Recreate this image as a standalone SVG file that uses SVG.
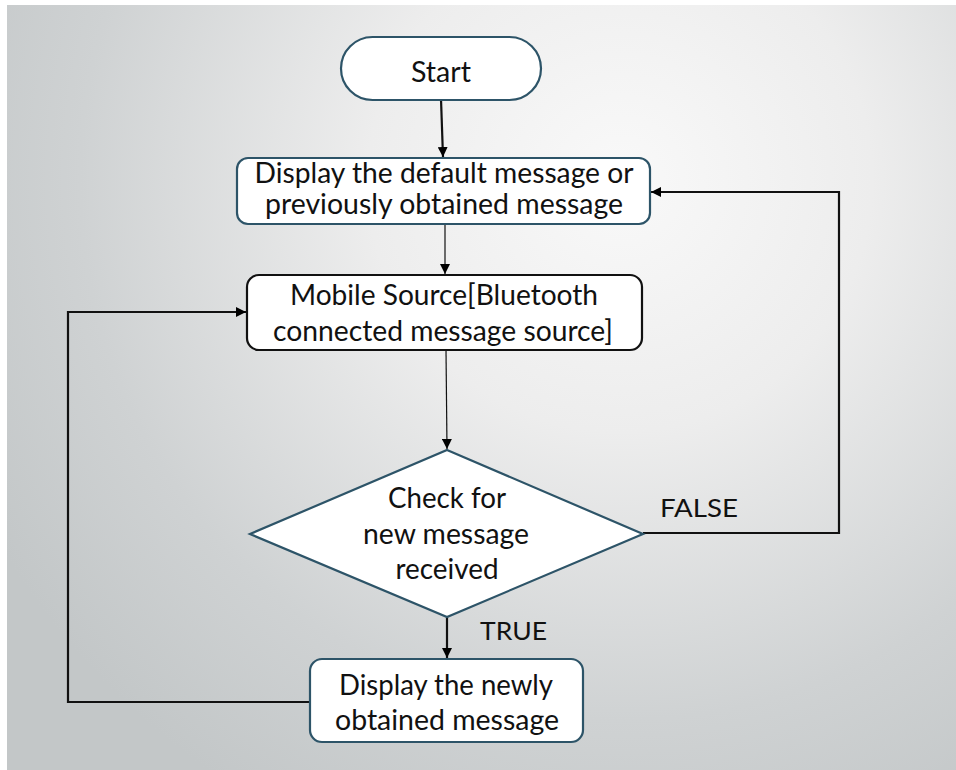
<svg xmlns="http://www.w3.org/2000/svg" width="956" height="770" viewBox="0 0 956 770">
<defs>
<radialGradient id="bg" gradientUnits="userSpaceOnUse" cx="620" cy="180" r="720">
<stop offset="0" stop-color="#f9f9f9"/>
<stop offset="0.35" stop-color="#ededed"/>
<stop offset="0.75" stop-color="#cfd2d3"/>
<stop offset="1" stop-color="#c3c7c8"/>
</radialGradient>
<marker id="ah" viewBox="0 0 10 10" refX="10" refY="5" markerWidth="10" markerHeight="10" markerUnits="userSpaceOnUse" orient="auto">
<path d="M0,0 L10,5 L0,10 z" fill="#000"/>
</marker>
</defs>
<style>
.t{font-family:Lato,"Open Sans","Liberation Sans",sans-serif;font-size:28px;fill:#111;text-anchor:middle}
.lb{font-family:Lato,"Open Sans","Liberation Sans",sans-serif;font-size:25px;fill:#111}
.box{fill:#fff;stroke:#2d5468;stroke-width:2.2}
.boxk{fill:#fff;stroke:#111;stroke-width:2.2}
.c{fill:none;stroke:#111;stroke-width:2.2}
.cthin{fill:none;stroke:#111;stroke-width:1.2}
</style>
<rect x="0" y="0" width="956" height="770" fill="url(#bg)"/>
<rect x="0" y="0" width="956" height="5" fill="#ffffff"/>
<rect x="0" y="0" width="7" height="770" fill="#ffffff"/>

<g id="connectors">
<path class="c" d="M441,99 L443,157" marker-end="url(#ah)"/>
<path class="cthin" d="M445,224 L445,274" marker-end="url(#ah)"/>
<path class="cthin" d="M446,350 L447,449" marker-end="url(#ah)"/>
<path class="c" d="M447,617 L447,658" marker-end="url(#ah)"/>
<path class="c" d="M643,533 L839,533 L839,192 L651,192" marker-end="url(#ah)"/>
<path class="c" d="M310,702 L68,702 L68,312 L246,312" marker-end="url(#ah)"/>
</g>

<g id="start">
<rect class="box" x="341" y="37" width="200" height="63" rx="31.5" ry="31.5"/>
<text class="t" x="441" y="82" textLength="60" lengthAdjust="spacingAndGlyphs">Start</text>
</g>

<g id="display-default">
<rect class="box" x="237" y="158" width="413" height="66" rx="11" ry="11"/>
<text class="t" x="444" y="183" textLength="379" lengthAdjust="spacingAndGlyphs">Display the default message or</text>
<text class="t" x="444" y="214" textLength="358" lengthAdjust="spacingAndGlyphs">previously obtained message</text>
</g>

<g id="mobile-source">
<rect class="boxk" x="247" y="275" width="395" height="75" rx="12" ry="12"/>
<text class="t" x="444" y="305" textLength="308" lengthAdjust="spacingAndGlyphs">Mobile Source[Bluetooth</text>
<text class="t" x="443" y="341" textLength="340" lengthAdjust="spacingAndGlyphs">connected message source]</text>
</g>

<g id="check">
<polygon class="box" points="447,450 643,534 447,617 250,534"/>
<text class="t" x="447" y="508" textLength="118" lengthAdjust="spacingAndGlyphs">Check for</text>
<text class="t" x="446" y="544" textLength="166" lengthAdjust="spacingAndGlyphs">new message</text>
<text class="t" x="447" y="579" textLength="103" lengthAdjust="spacingAndGlyphs">received</text>
</g>

<g id="display-new">
<rect class="box" x="310" y="659" width="273" height="83" rx="12" ry="12"/>
<text class="t" x="446" y="695" textLength="214" lengthAdjust="spacingAndGlyphs">Display the newly</text>
<text class="t" x="447" y="730" textLength="224" lengthAdjust="spacingAndGlyphs">obtained message</text>
</g>

<g id="labels">
<text class="lb" x="480" y="640" textLength="67" lengthAdjust="spacingAndGlyphs">TRUE</text>
<text class="lb" x="660" y="517" textLength="78" lengthAdjust="spacingAndGlyphs">FALSE</text>
</g>
</svg>
